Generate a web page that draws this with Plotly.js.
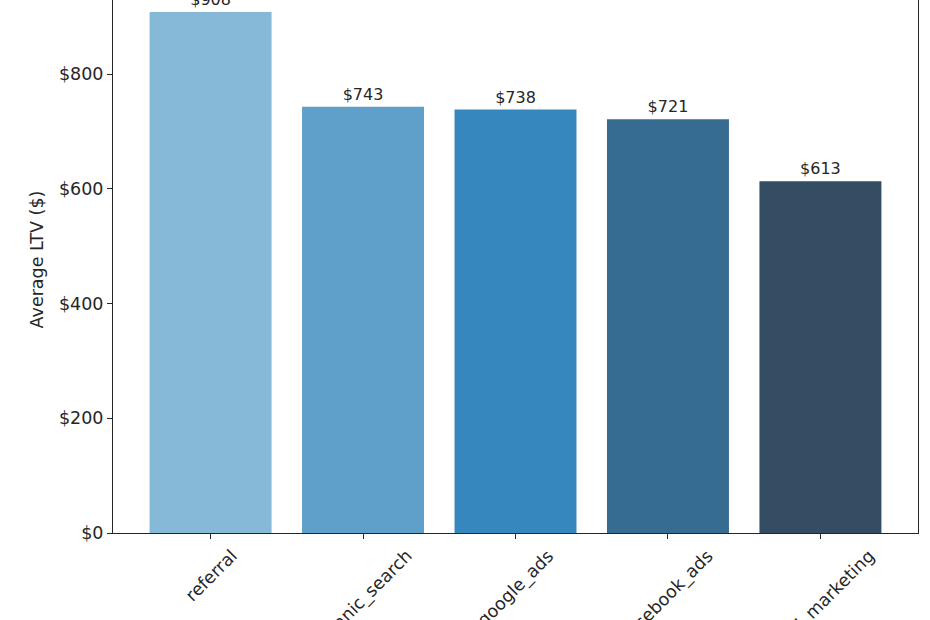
<!DOCTYPE html>
<html>
<head>
<meta charset="utf-8">
<script src="https://cdn.plot.ly/plotly-3.0.1.min.js"></script>
<style>
  html, body { margin: 0; padding: 0; width: 930px; height: 620px; overflow: hidden; background: #fff; }
  #plot { position: absolute; left: 0; top: -40px; width: 930px; height: 720px; }
</style>
</head>
<body>
<div id="plot"></div>
<script>
// average LTV per acquisition channel
var channels = ['referral', 'organic_search', 'google_ads', 'facebook_ads', 'email_marketing'];
var avgLtv = [908, 743, 738, 721, 613];
var barColors = ['#86b8d8', '#5fa0cb', '#3787bf', '#366c91', '#344d62'];
var yTicks = [0, 200, 400, 600, 800];

var font = 'DejaVu Sans, sans-serif';
var ink = '#262626';
var fs = 17.5;

var idx = channels.map(function(c, i) { return i; });

var trace = {
  type: 'bar',
  x: idx,
  y: avgLtv,
  width: 0.8,
  marker: {color: barColors, line: {width: 0}},
  text: avgLtv.map(function(v) { return '$' + v; }),
  textposition: 'outside',
  cliponaxis: false,
  textfont: {family: font, size: 16, color: ink},
  hoverinfo: 'x+y'
};

// tick labels as rotated, centred annotations (like matplotlib rotation=45)
var labels = channels.map(function(c, i) {
  return {
    x: i, y: 0, xref: 'x', yref: 'y',
    text: c, showarrow: false,
    textangle: -45,
    xanchor: 'center', yanchor: 'top',
    yshift: -10,
    font: {family: font, size: fs, color: ink}
  };
});

var layout = {
  width: 930,
  height: 720,
  margin: {l: 113, r: 12, t: 26, b: 147},
  paper_bgcolor: '#ffffff',
  plot_bgcolor: '#ffffff',
  showlegend: false,
  font: {family: font, size: fs, color: ink},
  xaxis: {
    range: [-0.64, 4.64],
    tickvals: idx,
    showticklabels: false,
    ticks: 'outside', ticklen: 5, tickwidth: 1, tickcolor: ink,
    showline: true, linecolor: ink, linewidth: 1, mirror: true,
    showgrid: false, zeroline: false, fixedrange: true
  },
  yaxis: {
    range: [0, 953.4],
    tickvals: yTicks,
    ticktext: yTicks.map(function(v) { return '$' + v; }),
    tickfont: {family: font, size: fs, color: ink},
    ticks: 'outside', ticklen: 5, tickwidth: 1, tickcolor: ink,
    showline: true, linecolor: ink, linewidth: 1, mirror: true,
    showgrid: false, zeroline: false, fixedrange: true,
    title: {text: 'Average LTV ($)', standoff: 10, font: {family: font, size: fs, color: ink}}
  },
  annotations: labels
};

Plotly.newPlot('plot', [trace], layout, {displayModeBar: false, staticPlot: true});
</script>
</body>
</html>
